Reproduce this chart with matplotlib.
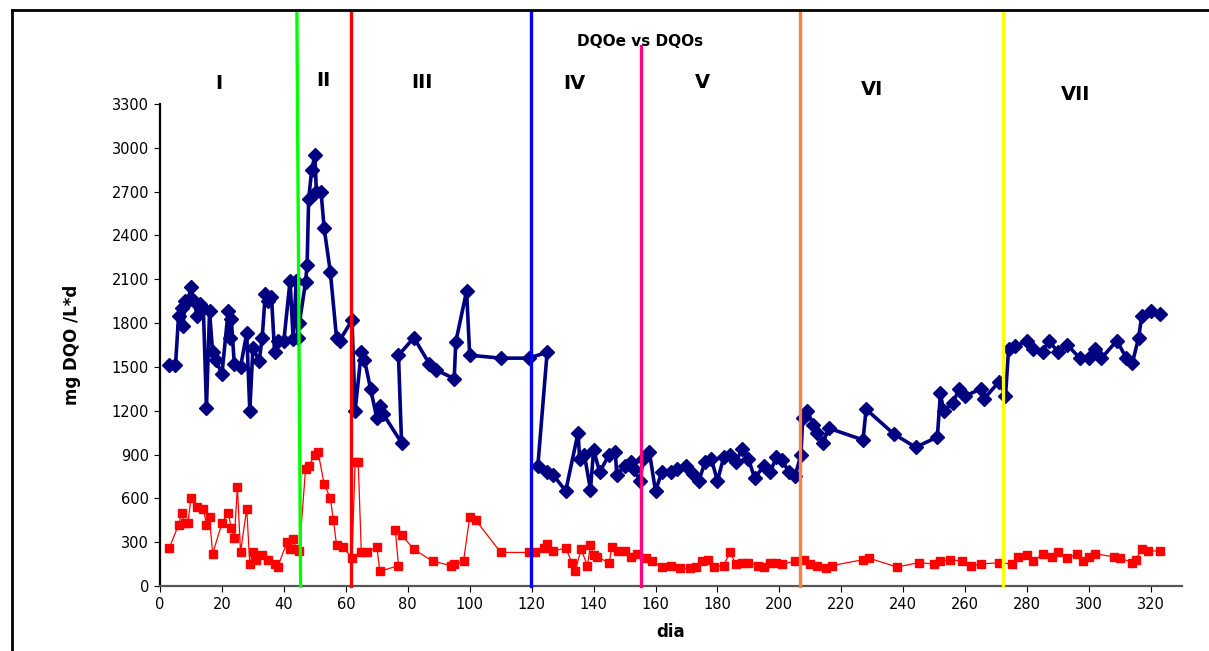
import numpy as np
import matplotlib.pyplot as plt
from matplotlib.lines import Line2D

# DQO afluente (e) - dia, valor
dia_e = [3, 5, 6, 7, 7.5, 8, 9, 10, 11, 12, 13, 14, 15, 16, 17, 18, 20, 22, 22.5, 23, 24,
         26, 28, 29, 30, 32, 33, 34, 35, 36, 37, 38, 40, 42, 43, 44, 44.5, 45, 47, 47.5, 48,
         49, 50, 50.5, 52, 53, 55, 57, 58, 62, 63, 65, 66, 68, 70, 71, 72, 78, 77, 82, 87, 89,
         95, 95.5, 99, 100, 110, 119, 125, 122, 125, 127, 131, 135, 135.5, 137, 139, 140,
         142, 145, 147, 147.5, 150, 152, 153, 155, 156, 158, 160, 162, 165, 167, 170, 172,
         174, 176, 178, 180, 182, 184, 186, 188, 190, 192, 195, 197, 199, 201, 203, 205,
         207, 207.5, 209, 211, 212, 214, 216, 227, 228, 237, 244, 251, 252, 253, 256, 258,
         260, 265, 266, 271, 273, 274, 276, 280, 282, 285, 287, 290, 293, 297, 300, 302,
         304, 309, 312, 314, 316, 317, 320, 323]
dqo_e = [1510, 1510, 1850, 1900, 1780, 1950, 1950, 2050, 1950, 1850, 1930, 1900, 1220,
         1880, 1600, 1550, 1450, 1880, 1700, 1830, 1520, 1500, 1730, 1200, 1630, 1540,
         1700, 2000, 1950, 1980, 1600, 1680, 1680, 2090, 1690, 2090, 1700, 1800, 2080,
         2200, 2650, 2850, 2950, 2700, 2700, 2450, 2150, 1700, 1680, 1820, 1200, 1600,
         1550, 1350, 1150, 1230, 1180, 980, 1580, 1700, 1520, 1480, 1420, 1670, 2020,
         1580, 1560, 1560, 1600, 820, 780, 760, 650, 1050, 870, 900, 660, 930, 780, 900,
         920, 760, 820, 850, 800, 720, 870, 920, 650, 780, 780, 800, 820, 770, 720, 850,
         870, 720, 880, 900, 850, 940, 870, 740, 820, 780, 880, 860, 780, 750, 900, 1150,
         1200, 1100, 1050, 980, 1080, 1000, 1210, 1040, 950, 1020, 1320, 1200, 1250, 1350,
         1300, 1350, 1280, 1400, 1300, 1620, 1640, 1680, 1620, 1600, 1680, 1600, 1650,
         1560, 1560, 1620, 1560, 1680, 1560, 1530, 1700, 1850, 1880, 1860]

# DQO efluente (s)
dia_s = [3, 6, 7, 8, 9, 10, 12, 14, 15, 16, 17, 20, 22, 23, 24, 25, 26, 28, 29, 30, 31,
         33, 35, 37, 38, 41, 42, 43, 44, 45, 47, 48, 50, 51, 53, 55, 56, 57, 59, 62, 63,
         64, 65, 67, 70, 71, 77, 76, 78, 82, 88, 94, 95, 98, 100, 102, 110, 119, 121, 124,
         125, 127, 131, 133, 134, 136, 138, 139, 140, 141, 145, 146, 148, 150, 152, 154,
         157, 159, 162, 165, 168, 171, 173, 175, 177, 179, 182, 184, 186, 188, 190, 193,
         195, 197, 199, 201, 205, 208, 210, 212, 215, 217, 227, 229, 238, 245, 250, 252,
         255, 259, 262, 265, 271, 275, 277, 280, 282, 285, 288, 290, 293, 296, 298, 300,
         302, 308, 310, 314, 315, 317, 319, 323]
dqo_s = [260, 420, 500, 430, 430, 600, 540, 530, 420, 470, 220, 430, 500, 400, 330, 680,
         230, 530, 150, 230, 180, 210, 180, 150, 130, 300, 250, 320, 250, 240, 800, 820,
         900, 920, 700, 600, 450, 280, 270, 190, 850, 850, 230, 230, 270, 100, 140, 380,
         350, 250, 170, 140, 150, 170, 470, 450, 230, 230, 230, 260, 290, 240, 260, 160,
         100, 250, 140, 280, 210, 200, 160, 270, 240, 240, 200, 220, 190, 170, 130, 140,
         120, 120, 130, 170, 180, 130, 140, 230, 150, 160, 160, 140, 130, 160, 160, 150,
         170, 180, 150, 140, 120, 140, 180, 190, 130, 160, 150, 170, 180, 170, 140, 150,
         160, 150, 200, 210, 170, 220, 200, 230, 190, 220, 170, 200, 220, 200, 190, 160,
         180, 250, 240, 240]

# limites entre fases
fases_x = [61.6, 119.8, 206.6, 272.2]
fases_cor = ['#ff0000', '#0000ff', '#ff8040', '#ffff00']
fases_nome = ['I', 'II', 'III', 'IV', 'V', 'VI', 'VII']
fases_txt_x = [19, 52.6, 84.6, 133.7, 175, 230, 295.5]
fases_txt_y = [3440, 3460, 3450, 3440, 3445, 3400, 3365]

fig = plt.figure(figsize=(12.09, 6.51), dpi=100)
ax = fig.add_axes([160/1209, 1-586/651, (1182-160)/1209, (586-104)/651])

ax.plot(dia_e, dqo_e, color='#000080', lw=2.6, marker='D', ms=7.5, zorder=3)
ax.plot(dia_s, dqo_s, color='#ff0000', lw=0.9, marker='s', ms=5.5, zorder=3)

ytop = 3930
ax.plot([44.2, 45.4], [ytop, 0], color='#00ff00', lw=2.4, clip_on=False, zorder=4)
for xv, c in zip(fases_x, fases_cor):
    ax.plot([xv, xv], [0, ytop], color=c, lw=2.4, clip_on=False, zorder=4)
ax.plot([155.3, 155.3], [0, 3700], color='#ff0080', lw=2.4, clip_on=False, zorder=4)

fn = ['Liberation Sans Narrow', 'DejaVu Sans Condensed', 'DejaVu Sans']
for nm, tx, ty in zip(fases_nome, fases_txt_x, fases_txt_y):
    ax.text(tx, ty, nm, ha='center', va='center', fontsize=14, fontweight='bold',
            family=fn)
ax.text(155, 3730, 'DQOe vs DQOs', ha='center', va='center', fontsize=11,
        fontweight='bold', family=fn)

ax.set_xlim(0, 330)
ax.set_ylim(0, 3300)
ax.set_xticks(np.arange(0, 321, 20))
ax.set_yticks(np.arange(0, 3301, 300))
ax.tick_params(direction='out', length=4, labelsize=10.5, pad=4)
for lab in ax.get_xticklabels() + ax.get_yticklabels():
    lab.set_family(fn)
ax.spines['top'].set_visible(False)
ax.spines['right'].set_visible(False)
ax.spines['left'].set_linewidth(1.6)
ax.spines['bottom'].set_color('#555555')
ax.spines['bottom'].set_linewidth(1.6)
ax.set_xlabel('dia', fontsize=12, fontweight='bold', family=fn, labelpad=8)
ax.set_ylabel('mg DQO /L*d', fontsize=12, fontweight='bold', family=fn, labelpad=22)

# moldura
fig.add_artist(Line2D([12/1209, 12/1209], [0, 1-10/651], color='black', lw=2))
fig.add_artist(Line2D([12/1209, 1], [1-10/651, 1-10/651], color='black', lw=2))

plt.savefig('out.png', dpi=100)
